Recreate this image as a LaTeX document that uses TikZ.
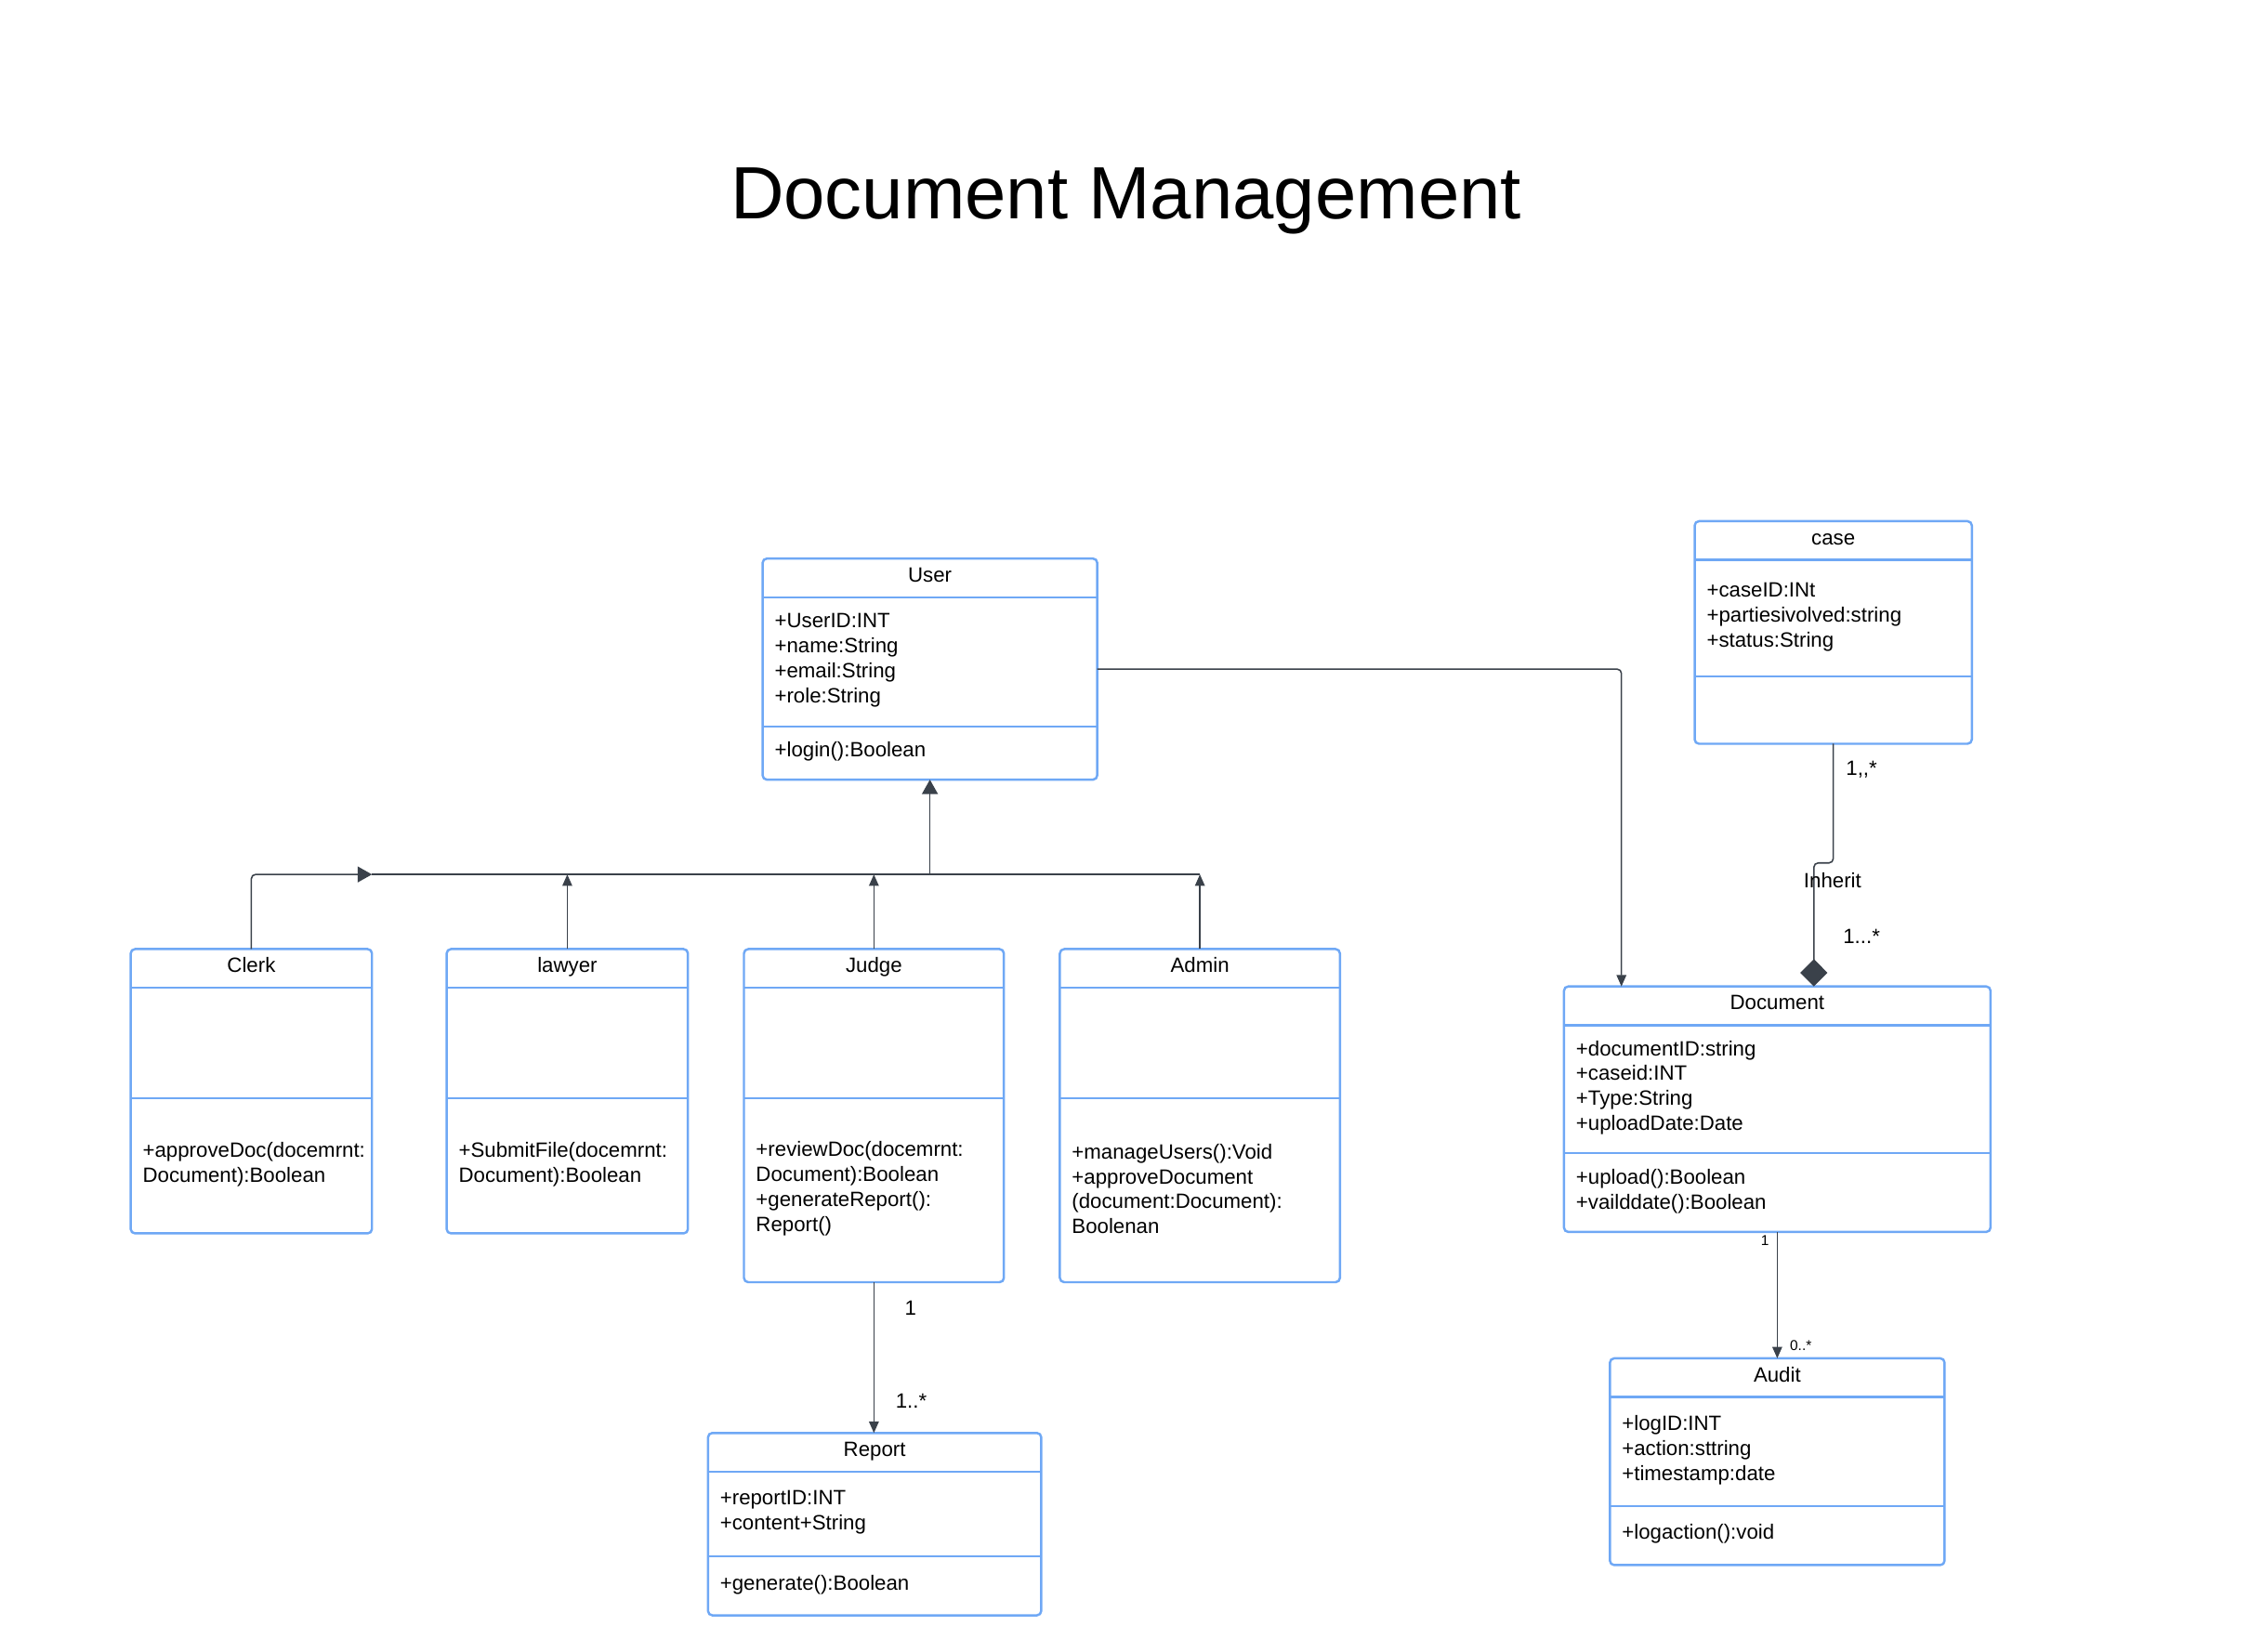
\documentclass[tikz,border=0pt]{standalone}
\usepackage{fontspec}
\setmainfont{Liberation Sans}
\usepackage{xcolor}
\usepackage{tikz}
\usetikzlibrary{arrows.meta,fit}

\definecolor{boxblue}{HTML}{6FA8F5}
\definecolor{linegray}{HTML}{3A414A}

\tikzset{
  classbox/.style={draw=boxblue, line width=0.8pt, rounded corners=1.5pt, inner sep=0pt, outer sep=0pt},
  divider/.style={draw=boxblue, line width=0.8pt},
  classname/.style={font=\fontsize{7.2}{8.7}\selectfont, inner sep=0pt, text height=5.3pt, text depth=1.5pt},
  members/.style={font=\fontsize{7.2}{8.7}\selectfont, align=left, anchor=west, inner sep=0pt},
  mult/.style={font=\fontsize{7.2}{8.7}\selectfont, inner sep=0pt},
  smallmult/.style={font=\fontsize{5}{6}\selectfont, inner sep=0pt},
  link/.style={draw=linegray, line width=0.5pt, rounded corners=1.5pt},
  assoc/.style={link, -{Triangle[length=4pt,width=3.4pt]}},
  gen/.style={link, -{Triangle[length=5pt,width=5.5pt]}},
  comp/.style={link, -{Diamond[length=9.5pt,width=9.5pt]}}
}

\begin{document}
\begin{tikzpicture}[x=0.5pt, y=-0.5pt]
  \useasboundingbox (0,0) rectangle (1566,1150);

  \node[font=\fontsize{25.8}{31}\selectfont, anchor=base, inner sep=0pt] (title) at (784,152.7) {Document Management};

  % User
  \node[classbox, fit={(531,389) (764,543)}] (user) {};
  \draw[divider] (531,416) -- (764,416);
  \draw[divider] (531,506) -- (764,506);
  \node[classname] (usertitle) at (647.5,401.5) {User};
  \node[members] (userattr) at (539,460) {+UserID:INT\\+name:String\\+email:String\\+role:String};
  \node[members] (userops) at (539,523.5) {+login():Boolean};

  % case
  \node[classbox, fit={(1180,363) (1373,518)}] (case) {};
  \draw[divider] (1180,390) -- (1373,390);
  \draw[divider] (1180,471) -- (1373,471);
  \node[classname] (casetitle) at (1276.5,375.5) {case};
  \node[members] (caseattr) at (1188,430) {+caseID:INt\\+partiesivolved:string\\+status:String};

  % Document
  \node[classbox, fit={(1089,687) (1386,858)}] (document) {};
  \draw[divider] (1089,714) -- (1386,714);
  \draw[divider] (1089,803) -- (1386,803);
  \node[classname] (doctitle) at (1237.5,699.5) {Document};
  \node[members] (docattr) at (1097,757.5) {+documentID:string\\+caseid:INT\\+Type:String\\+uploadDate:Date};
  \node[members] (docops) at (1097,829.5) {+upload():Boolean\\+vailddate():Boolean};

  % Audit
  \node[classbox, fit={(1121,946) (1354,1090)}] (audit) {};
  \draw[divider] (1121,973) -- (1354,973);
  \draw[divider] (1121,1049) -- (1354,1049);
  \node[classname] (audittitle) at (1237.5,958.5) {Audit};
  \node[members] (auditattr) at (1129,1010) {+logID:INT\\+action:sttring\\+timestamp:date};
  \node[members] (auditops) at (1129,1068.5) {+logaction():void};

  % Clerk
  \node[classbox, fit={(91,661) (259,859)}] (clerk) {};
  \draw[divider] (91,688) -- (259,688);
  \draw[divider] (91,765) -- (259,765);
  \node[classname] (clerktitle) at (175,673.5) {Clerk};
  \node[members] (clerkops) at (99,811) {+approveDoc(docemrnt:\\Document):Boolean};

  % lawyer
  \node[classbox, fit={(311,661) (479,859)}] (lawyer) {};
  \draw[divider] (311,688) -- (479,688);
  \draw[divider] (311,765) -- (479,765);
  \node[classname] (lawyertitle) at (395,673.5) {lawyer};
  \node[members] (lawyerops) at (319,811) {+SubmitFile(docemrnt:\\Document):Boolean};

  % Judge
  \node[classbox, fit={(518,661) (699,893)}] (judge) {};
  \draw[divider] (518,688) -- (699,688);
  \draw[divider] (518,765) -- (699,765);
  \node[classname] (judgetitle) at (608.5,673.5) {Judge};
  \node[members] (judgeops) at (526,828) {+reviewDoc(docemrnt:\\Document):Boolean\\+generateReport():\\Report()};

  % Admin
  \node[classbox, fit={(738,661) (933,893)}] (admin) {};
  \draw[divider] (738,688) -- (933,688);
  \draw[divider] (738,765) -- (933,765);
  \node[classname] (admintitle) at (835.5,673.5) {Admin};
  \node[members] (adminops) at (746,828) {+manageUsers():Void\\+approveDocument\\(document:Document):\\Boolenan};

  % Report
  \node[classbox, fit={(493,998) (725,1125)}] (report) {};
  \draw[divider] (493,1025) -- (725,1025);
  \draw[divider] (493,1084) -- (725,1084);
  \node[classname] (reporttitle) at (609,1010.5) {Report};
  \node[members] (reportattr) at (501,1053.5) {+reportID:INT\\+content+String};
  \node[members] (reportops) at (501,1103.5) {+generate():Boolean};

  % inheritance bus
  \coordinate (busL) at (259,609);
  \coordinate (busR) at (admin.north |- busL);
  \draw[gen] (clerk.north) |- (busL);
  \draw[link] (busL) -- (busR);
  \draw[gen] (user.south |- busL) -- (user.south);
  \draw[assoc] (lawyer.north) -- (lawyer.north |- busL);
  \draw[assoc] (judge.north) -- (judge.north |- busL);
  \draw[assoc] (admin.north) -- (busR);

  % associations
  \draw[assoc] (user.east) -| ([xshift=20pt]document.north west);
  \draw[comp] (case.south) -- (case.south |- 0,601) -| ([xshift=12.75pt]document.north);
  \draw[assoc] (judge.south) -- (judge.south |- report.north);
  \draw[assoc] (document.south) -- (audit.north);

  % multiplicities
  \node[mult, anchor=west] (m1) at (1285,536) {1,{},*};
  \node[mult] (inherit) at (1276,613) {Inherit};
  \node[mult, anchor=west] (m2) at (1283,652) {1...*};
  \node[mult] (m3) at (634,911) {1};
  \node[mult] (m4) at (634.5,976) {1..*};
  \node[smallmult] (m5) at (1229,864) {1};
  \node[smallmult, anchor=west] (m6) at (1246,937) {0..*};
\end{tikzpicture}
\end{document}
